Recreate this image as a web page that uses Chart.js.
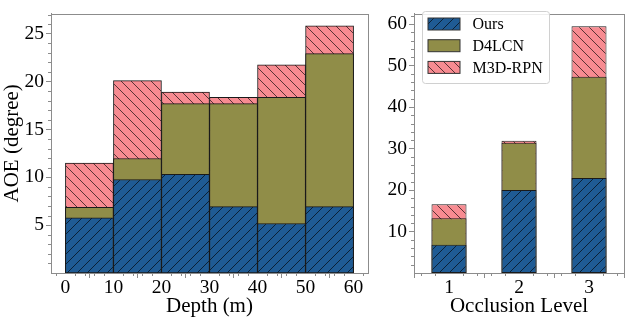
<!DOCTYPE html>
<html>
<head>
<meta charset="utf-8">
<script src="https://cdn.jsdelivr.net/npm/chart.js@4/dist/chart.umd.min.js"></script>
<style>
  body { margin: 0; background: #fff; }
  #wrap { position: relative; width: 629px; height: 320px; }
  canvas { position: absolute; top: 0; }
  #cDepth { left: 0; }
  #cOcc { left: 372px; }
</style>
</head>
<body>
<div id="wrap">
  <canvas id="cDepth" width="372" height="320"></canvas>
  <canvas id="cOcc" width="257" height="320"></canvas>
</div>
<script>
// data
const seriesNames = ['Ours', 'D4LCN', 'M3D-RPN'];

// left: AOE by depth bin (10 m bins, bin centres)
const depthCenters = [5, 15, 25, 35, 45, 55];
const oursDepth  = [5.77, 9.77, 10.3, 6.94, 5.17, 6.94];
const d4lcnDepth = [6.87, 11.97, 17.7, 17.7, 18.36, 22.92];
const m3dDepth   = [11.48, 20.1, 18.9, 18.36, 21.76, 25.83];
const depthTicks = [0, 10, 20, 30, 40, 50, 60];
const depthYTicks = [5, 10, 15, 20, 25];

// right: AOE by occlusion level
const occLevels = [1, 2, 3];
const oursOcc  = [6.8, 20.0, 22.9];
const d4lcnOcc = [13.2, 31.4, 47.3];
const m3dOcc   = [16.6, 31.9, 59.5];
const occYTicks = [10, 20, 30, 40, 50, 60];

const blue = '#1f5b94';
const olive = '#908d48';
const pink = '#f78b91';
const axisGray = '#8c8c8c';
const serif = 'Liberation Serif';

// hatch patterns like matplotlib '/' and '\'
function hatch(color, dir) {
    const s = 10;
    const c = document.createElement('canvas');
    c.width = s; c.height = s;
    const g = c.getContext('2d');
    g.fillStyle = color;
    g.fillRect(0, 0, s, s);
    if (dir) {
        g.strokeStyle = 'rgba(0,0,0,0.8)';
        g.lineWidth = 0.8;
        g.beginPath();
        if (dir === '/') {
            g.moveTo(-1, s + 1); g.lineTo(s + 1, -1);
            g.moveTo(-1, 1); g.lineTo(1, -1);
            g.moveTo(s - 1, s + 1); g.lineTo(s + 1, s - 1);
        } else {
            g.moveTo(-1, -1); g.lineTo(s + 1, s + 1);
            g.moveTo(-1, s - 1); g.lineTo(1, s + 1);
            g.moveTo(s - 1, -1); g.lineTo(s + 1, 1);
        }
        g.stroke();
    }
    return g.createPattern(c, 'repeat');
}

const fills = [hatch(blue, '/'), hatch(olive, null), hatch(pink, '\\')];

function makeSets(xs, lists) {
    return lists.map((vals, i) => ({
        label: seriesNames[i],
        data: xs.map((x, j) => ({ x: x, y: vals[j] })),
        backgroundColor: fills[i],
        borderColor: '#1a1a1a',
        borderWidth: 1,
        borderSkipped: false,
        grouped: false
    }));
}

// frame + minor ticks
const axisDeco = {
    id: 'axisDeco',
    afterDatasetsDraw(chart, args, opts) {
        const ctx = chart.ctx;
        const a = chart.chartArea;
        const sx = chart.scales.x, sy = chart.scales.y;
        ctx.save();
        ctx.strokeStyle = axisGray;
        ctx.lineWidth = 1;
        ctx.beginPath();
        const n1 = Math.ceil(sx.min / opts.x - 1e-6), n2 = Math.floor(sx.max / opts.x + 1e-6);
        for (let i = n1; i <= n2; i++) {
            const v = i * opts.x;
            if (opts.xMajor.some(m => Math.abs(m - v) < 1e-6)) continue;
            const px = Math.round(sx.getPixelForValue(v)) + 0.5;
            ctx.moveTo(px, a.bottom); ctx.lineTo(px, a.bottom + 3);
        }
        const m2 = Math.floor(sy.max / opts.y + 1e-6);
        for (let i = 1; i <= m2; i++) {
            const v = i * opts.y;
            if (opts.yMajor.some(m => Math.abs(m - v) < 1e-6)) continue;
            const py = Math.round(sy.getPixelForValue(v)) + 0.5;
            ctx.moveTo(a.left, py); ctx.lineTo(a.left - 3, py);
        }
        ctx.stroke();
        ctx.strokeRect(Math.round(a.left) + 0.5, Math.round(a.top) + 0.5,
            Math.round(a.right - a.left), Math.round(a.bottom - a.top));
        ctx.restore();
    }
};

// framed legend in the upper left of the plot area
const boxLegend = {
    id: 'boxLegend',
    afterDraw(chart, args, opts) {
        if (!opts.show) return;
        const ctx = chart.ctx;
        const a = chart.chartArea;
        const x0 = a.left + 8.5, y0 = 11.5, w = 127, h = 72;
        ctx.save();
        ctx.fillStyle = 'rgba(255,255,255,0.85)';
        ctx.strokeStyle = '#d0d0d0';
        ctx.lineWidth = 1;
        ctx.beginPath();
        ctx.roundRect(x0, y0, w, h, 3);
        ctx.fill();
        ctx.stroke();
        ctx.font = '16px "' + serif + '"';
        ctx.textBaseline = 'middle';
        chart.data.datasets.forEach((ds, i) => {
            const cy = 24 + i * 21.7;
            ctx.fillStyle = ds.backgroundColor;
            ctx.fillRect(x0 + 5.5, cy - 6, 32, 12);
            ctx.strokeStyle = '#333';
            ctx.strokeRect(x0 + 5.5, cy - 6, 32, 12);
            ctx.fillStyle = '#000';
            ctx.fillText(ds.label, x0 + 50, cy + 1);
        });
        ctx.restore();
    }
};

function axisOpts(min, max, ticks, width, title, isX) {
    return {
        type: 'linear',
        min: min,
        max: max,
        offset: false,
        afterBuildTicks: s => { s.ticks = ticks.map(v => ({ value: v })); },
        afterFit: s => { if (isX) s.height = 47; else s.width = width; },
        grid: { drawOnChartArea: false, drawTicks: true, tickLength: 5, color: axisGray },
        border: { display: true, color: axisGray },
        ticks: { autoSkip: false, maxRotation: 0, color: '#000', padding: isX ? -2 : 2,
                 font: { family: serif, size: 19.5 } },
        title: { display: true, text: title, color: '#000',
                 font: { family: serif, size: 21 },
                 padding: isX ? { top: 0, bottom: 1 } : { top: 0, bottom: 0 } }
    };
}

function makeChart(id, sets, cfg) {
    return new Chart(document.getElementById(id), {
        type: 'bar',
        data: { datasets: sets },
        options: {
            responsive: false,
            animation: false,
            events: [],
            datasets: { bar: { barPercentage: cfg.barPct, categoryPercentage: 1 } },
            layout: { padding: { top: 3, right: cfg.padRight, left: 0, bottom: 0 } },
            plugins: {
                legend: { display: false },
                tooltip: { enabled: false },
                axisDeco: cfg.minor,
                boxLegend: { show: cfg.legend }
            },
            scales: {
                x: axisOpts(cfg.xMin, cfg.xMax, cfg.xTicks, 0, cfg.xTitle, true),
                y: axisOpts(0, cfg.yMax, cfg.yTicks, cfg.yWidth, 'AOE (degree)', false)
            }
        },
        plugins: [axisDeco, boxLegend]
    });
}

const depthChart = makeChart('cDepth', makeSets(depthCenters, [oursDepth, d4lcnDepth, m3dDepth]), {
    barPct: 1, padRight: 4, xMin: -3, xMax: 63, xTicks: depthTicks, xTitle: 'Depth (m)',
    yMax: 27.1, yTicks: depthYTicks, yWidth: 51, legend: false,
    minor: { x: 2, y: 1, xMajor: depthTicks, yMajor: depthYTicks }
});

const occChart = makeChart('cOcc', makeSets(occLevels, [oursOcc, d4lcnOcc, m3dOcc]), {
    barPct: 0.5, padRight: 5, xMin: 0.5, xMax: 3.5, xTicks: occLevels, xTitle: 'Occlusion Level',
    yMax: 62.5, yTicks: occYTicks, yWidth: 42, legend: true,
    minor: { x: 0.2, y: 2, xMajor: occLevels, yMajor: occYTicks }
});
occChart.options.scales.y.title.display = false;
occChart.update();
</script>
</body>
</html>
